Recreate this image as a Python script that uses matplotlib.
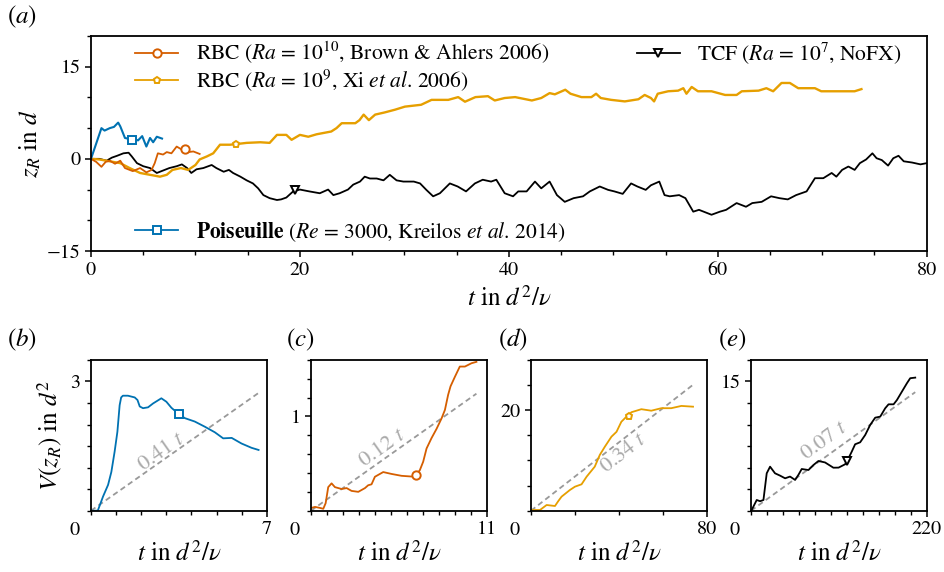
import numpy as np
import matplotlib
matplotlib.use('Agg')
import matplotlib.pyplot as plt
from matplotlib.lines import Line2D
from matplotlib.ticker import MultipleLocator

plt.rcParams['font.family'] = ['STIXGeneral']
plt.rcParams['mathtext.fontset'] = 'stix'

# ---- panel (a): trajectories z_R(t) ----
pois_t = [0, 0.5, 1.0, 1.3, 1.8, 2.2, 2.6, 2.8, 3.25, 3.5, 3.9, 4.2, 4.5, 4.9, 5.3, 5.65, 5.95, 6.3, 6.8]
pois_z = [0, 2.5, 5.0, 4.6, 5.0, 5.2, 5.9, 5.3, 3.4, 3.3, 3.1, 3.2, 3.0, 3.7, 2.0, 3.4, 2.7, 3.6, 3.3]

brown_t = [0, 0.5, 1.0, 1.4, 1.8, 2.3, 2.8, 3.25, 3.7, 4.0, 4.7, 5.3, 5.8, 6.1, 6.4, 6.9, 7.25, 7.7,
           8.2, 8.7, 9.0, 9.3, 9.8, 10.4]
brown_z = [0, -0.5, -1.3, -0.5, -0.3, -0.8, -0.3, -1.5, -1.8, -2.0, -1.5, -2.2, -1.8, -0.7, 0.9, 0.7,
           1.1, 0.9, 2.0, 1.5, 1.6, 1.1, 1.2, 0.8]

xi_t = [0, 0.8, 1.8, 2.8, 3.7, 4.7, 5.65, 6.6, 7.25, 7.8, 8.6, 9.3, 10.0, 10.4, 11.1, 11.7, 12.35,
        13.3, 13.9, 14.9, 16.2, 17.1, 17.8, 18.7, 19.2, 20.0, 20.8, 21.6, 23.0, 23.5, 24.0, 25.3,
        25.7, 26.1, 26.6, 27.2, 28.1, 29.1, 30.05, 31.6, 32.6, 34.2, 35.15, 35.8, 36.8, 38.0, 38.65,
        39.6, 40.6, 42.2, 43.1, 43.9, 44.4, 45.4, 45.9, 46.95, 47.9, 48.35, 48.8, 49.8, 51.1, 52.4,
        53.0, 53.6, 53.9, 54.25, 55.25, 56.2, 56.7, 57.0, 57.5, 58.1, 59.4, 60.7, 61.8, 62.3, 63.9,
        64.65, 65.3, 66.1, 66.9, 67.7, 69.3, 69.9, 71.2, 72.5, 73.1, 73.75]
xi_z = [0, -0.1, -0.4, -0.7, -1.5, -2.3, -2.6, -2.9, -2.6, -1.8, -1.5, -1.8, -1.0, -0.1, 0.4, 0.9, 2.3,
        2.3, 2.4, 2.6, 2.7, 2.6, 3.9, 3.9, 3.1, 3.9, 3.6, 4.0, 4.45, 5.0, 5.8, 5.8,
        6.3, 7.2, 6.3, 7.2, 7.55, 8.0, 8.5, 8.8, 9.6, 9.6, 10.05, 9.3, 10.05, 10.2, 9.5,
        9.9, 10.05, 9.5, 9.9, 10.7, 10.5, 11.25, 10.6, 10.05, 10.05, 10.6, 9.9, 9.6, 9.35, 9.7,
        10.4, 9.9, 9.35, 10.6, 11.0, 11.1, 11.5, 10.6, 11.7, 11.0, 11.0, 10.4, 10.4, 11.0, 11.1,
        11.5, 11.0, 12.35, 12.35, 11.5, 11.5, 11.0, 11.0, 11.0, 11.0, 11.35]

tcf_t = [0, 0.8, 1.5, 2.0, 2.5, 3.1, 3.6, 3.9, 4.4, 5.0,
         5.65, 6.3, 6.9, 7.5, 8.2, 8.7, 9.2, 9.6, 10.1, 10.75,
         11.55, 12.0, 12.7, 13.2, 13.6, 14.3, 14.9, 15.5, 16.0, 16.5,
         17.1, 17.8, 18.2, 18.7, 19.35, 20.0, 20.9, 21.9, 22.7, 23.2,
         23.8, 24.6, 25.1, 25.75, 26.2, 26.7, 27.35, 28.0, 28.6, 29.25,
         29.9, 30.9, 31.5, 32.1, 32.75, 33.4, 34.35, 35.1, 35.9, 36.75,
         37.5, 38.3, 38.8, 39.6, 40.4, 40.9, 41.7, 42.5, 43.1, 43.9,
         44.6, 45.35, 46.2, 47.1, 47.75, 48.7, 49.5, 50.1, 50.9, 51.7,
         52.3, 53.1, 53.6, 54.4, 54.9, 55.4, 56.3, 56.9, 57.65, 58.2,
         59.4, 60.2, 60.8, 61.8, 62.7, 63.3, 64.2, 65.1, 65.9, 66.7,
         67.5, 68.5, 69.3, 70.1, 70.9, 71.35, 71.9, 72.5, 73.1, 73.6,
         74.2, 74.8, 75.2, 75.7, 76.3, 76.8, 77.3, 77.8, 78.6, 79.4, 80.0]
tcf_z = [0, 0, -0.3, 0.2, 0.5, 0.9, 1.0, 0.4, -0.7, -1.2,
         -1.5, -2.3, -1.9, -1.5, -1.2, -0.9, -1.5, -2.3, -1.7, -1.5,
         -1.0, -1.5, -2.1, -1.8, -2.3, -2.9, -3.5, -4.0, -4.8, -5.9,
         -6.4, -6.7, -6.6, -6.3, -5.3, -5.0, -5.3, -5.6, -5.0, -5.9,
         -5.6, -5.0, -4.2, -3.7, -2.9, -3.2, -3.2, -3.5, -2.6, -3.5,
         -3.7, -3.7, -4.0, -5.05, -6.1, -5.6, -4.0, -4.5, -5.3, -4.0,
         -3.4, -3.7, -3.4, -5.6, -6.1, -5.3, -5.3, -3.7, -4.8, -3.7,
         -5.9, -7.0, -6.4, -6.1, -5.3, -4.5, -5.05, -5.3, -5.7, -4.0,
         -4.5, -5.05, -4.3, -3.7, -5.9, -6.1, -5.9, -6.4, -8.6, -8.3,
         -9.1, -8.6, -8.3, -7.2, -7.8, -7.2, -7.0, -6.1, -6.4, -6.6,
         -5.9, -5.3, -3.15, -3.15, -2.3, -2.9, -1.8, -1.25, -1.8, -0.7,
         -0.1, 0.9, 0.1, -0.2, -1.1, 0.1, 0.5, -0.4, -0.6, -0.9, -0.7]

# marker positions on the trajectories
mark_top = {'pois': (3.9, 3.1), 'brown': (9.0, 1.6), 'xi': (13.9, 2.4), 'tcf': (19.5, -5.05)}

# ---- panels (b)-(e): variance V(z_R) ----
var_b_t = [0, 0.27, 0.48, 0.68, 0.81, 0.94, 1.05, 1.14, 1.2, 1.27, 1.47, 1.74, 1.85, 1.94, 2.07,
           2.27, 2.47, 2.8, 3.0, 3.2, 3.46, 3.73, 4.13, 4.53, 4.93, 5.26, 5.6, 5.99, 6.39, 6.67]
var_b_v = [0, 0, 0.33, 0.6, 0.9, 1.37, 1.83, 2.45, 2.63, 2.67, 2.67, 2.63, 2.57, 2.42, 2.38,
           2.4, 2.49, 2.61, 2.53, 2.39, 2.26, 2.15, 2.07, 1.95, 1.82, 1.68, 1.69, 1.56, 1.46, 1.41]

var_c_t = [0.04, 0.25, 0.55, 0.77, 0.92, 1.08, 1.29, 1.5, 1.92, 2.23, 2.54, 2.96, 3.38, 3.58, 3.79,
           4.0, 4.52, 5.04, 5.67, 6.5, 6.81, 7.02, 7.23, 7.54, 7.86, 8.17, 8.38, 8.58, 8.73, 9.0,
           9.31, 9.63, 10.04, 10.35]
var_c_v = [0.03, 0.04, 0.03, 0.02, 0.08, 0.25, 0.29, 0.25, 0.23, 0.24, 0.21, 0.2, 0.24, 0.27, 0.28,
           0.36, 0.41, 0.39, 0.37, 0.36, 0.43, 0.52, 0.66, 0.77, 0.87, 0.98, 1.07, 1.23, 1.32, 1.42,
           1.53, 1.53, 1.565, 1.58]

var_d_t = [0.3, 4.1, 7.1, 10.9, 12.4, 13.9, 17.7, 20, 23, 25.3, 29, 31.3, 33.6, 36.6, 38.9, 41.1,
           43.4, 45.7, 50.2, 54.7, 59.3, 63.8, 68.4, 73.7]
var_d_v = [0.13, 0.14, 1.13, 0.93, 1.9, 2.79, 4.12, 4.78, 5.25, 6.77, 8.76, 11.1, 12.74, 14.73, 15.7,
           17.7, 18.7, 19.6, 20.2, 19.9, 20.4, 20.4, 20.85, 20.7]

var_e_t = [0.8, 2.9, 7.1, 11.3, 15.5, 19.6, 23.8, 30, 36.3, 42.6, 48.8, 55.1, 59.2, 63.4, 71.8, 78,
           84.3, 92.6, 103, 109.5, 117.7, 121.9, 126, 130.2, 136.5, 142.8, 149, 155.3, 161.6, 167.8,
           172, 178.3, 182.5, 188.7, 195, 199.1, 205.4]
var_e_v = [0.08, 0.47, 1.24, 1.1, 1.24, 4.34, 5.11, 4.34, 4.07, 3.76, 3.96, 3.57, 4.15, 4.84, 4.72,
           5.3, 5.77, 5.6, 4.99, 5.0, 5.39, 6.09, 6.86, 7.71, 7.94, 8.79, 9.95, 10.8, 10.92, 11.89,
           12.35, 12.35, 12.85, 13.82, 14.8, 15.38, 15.45]

mark_var = [(3.49, 2.25), (6.55, 0.38), (44.5, 18.9), (120, 5.8)]
fit_slopes = [0.41, 0.12, 0.34, 0.067]
fit_labels = ['0.41', '0.12', '0.34', '0.07']

c_pois = '#0072B2'
c_brown = '#D55E00'
c_xi = '#E69F00'
c_tcf = 'black'
c_fit = '#999999'

lw = 1.3
fs = 14.5
fs_lab = 18

fig = plt.figure(figsize=(9.44, 5.72), dpi=100)

def style(ax):
    for s in ax.spines.values():
        s.set_linewidth(1.3)
    ax.tick_params(which='major', direction='out', length=4.5, width=1.1, labelsize=fs, pad=3)
    ax.tick_params(which='minor', direction='out', length=3, width=1.0)

# (a)
ax = fig.add_axes([0.0964, 0.5612, 0.8853, 0.3759])
style(ax)
ax.plot(tcf_t, tcf_z, color=c_tcf, lw=lw)
ax.plot(xi_t, xi_z, color=c_xi, lw=lw + 0.4)
ax.plot(brown_t, brown_z, color=c_brown, lw=lw)
ax.plot(pois_t, pois_z, color=c_pois, lw=lw + 0.2)
mk = dict(ls='none', mfc='white', mew=1.4)
ax.plot(*mark_top['tcf'], marker='v', ms=6, color=c_tcf, **mk)
ax.plot(*mark_top['xi'], marker='p', ms=5, color=c_xi, **mk)
ax.plot(*mark_top['brown'], marker='o', ms=6, color=c_brown, **mk)
ax.plot(*mark_top['pois'], marker='s', ms=6, color=c_pois, **mk)
ax.set_xlim(0, 80)
ax.set_ylim(-15, 20)
ax.set_xticks([0, 20, 40, 60, 80])
ax.set_yticks([-15, 0, 15])
ax.xaxis.set_minor_locator(MultipleLocator(5))
ax.yaxis.set_minor_locator(MultipleLocator(5))
ax.set_xlabel(r'$t$ in $d^2/\nu$', fontsize=fs_lab, labelpad=6)
ax.set_ylabel(r'$z_R$ in $d$', fontsize=fs_lab, labelpad=2)

def handle(color, marker, ms):
    return Line2D([], [], color=color, lw=lw, marker=marker, ms=ms, mfc='white', mew=1.4)

leg_kw = dict(frameon=False, fontsize=15.5, handlelength=2.0, handletextpad=0.8,
              labelspacing=0.05, borderpad=0, borderaxespad=0, loc='upper left')
lab_brown = r'RBC ($Ra$ = 10$^{10}$, Brown & Ahlers 2006)'
lab_xi = r'RBC ($Ra$ = 10$^{9}$, Xi $et\ al$. 2006)'
lab_tcf = r'TCF ($Ra$ = 10$^{7}$, NoFX)'
lab_pois = r'$\mathbf{Poiseuille}$ ($Re$ = 3000, Kreilos $et\ al$. 2014)'
l1 = ax.legend([handle(c_brown, 'o', 6), handle(c_xi, 'p', 5)], [lab_brown, lab_xi],
               bbox_to_anchor=(0.053, 0.98), **leg_kw)
ax.add_artist(l1)
l2 = ax.legend([handle(c_tcf, 'v', 6)], [lab_tcf], bbox_to_anchor=(0.653, 0.98), **leg_kw)
ax.add_artist(l2)
ax.legend([handle(c_pois, 's', 6)], [lab_pois], bbox_to_anchor=(0.053, 0.145), **leg_kw)
fig.text(0.007, 0.97, r'($a$)', fontsize=fs_lab, va='center')

# (b)-(e)
panels = [
    (var_b_t, var_b_v, c_pois, 's', 7, 3.5, 3, 1, 0.5, 2.8),
    (var_c_t, var_c_v, c_brown, 'o', 11, 1.6, 1, 1, 0.2, 4.5),
    (var_d_t, var_d_v, c_xi, 'p', 80, 30, 20, 20, 5, 42.0),
    (var_e_t, var_e_v, c_tcf, 'v', 220, 17.5, 15, 20, 2.5, 92.4),
]
lefts = [0.0964, 0.3294, 0.5625, 0.7956]
names = ['b', 'c', 'd', 'e']
text_off = [0.22, 0.13, -2.8, 1.9]
label_dx = [-0.089, -0.026, -0.035, -0.035]
for i, (tt, vv, col, mkr, xmax, ymax, ymaj, xmin_step, ymin_step, tx) in enumerate(panels):
    a = fig.add_axes([lefts[i], 0.1072, 0.1863, 0.2635])
    style(a)
    slope = fit_slopes[i]
    a.plot([0, tt[-1]], [0, slope * tt[-1]], color=c_fit, lw=1.3, ls=(0, (3, 2)))
    a.plot(tt, vv, color=col, lw=lw)
    a.plot(*mark_var[i], marker=mkr, ms=6 if mkr != 'p' else 5, color=col, **mk)
    a.set_xlim(0, xmax)
    a.set_ylim(0, ymax)
    a.set_xticks([xmax])
    a.set_yticks([ymaj])
    a.xaxis.set_minor_locator(MultipleLocator(xmin_step))
    a.yaxis.set_minor_locator(MultipleLocator(ymin_step))
    a.set_xlabel(r'$t$ in $d^2/\nu$', fontsize=fs_lab, labelpad=3)
    a.annotate('0', xy=(0, 0), xycoords='axes fraction', xytext=(-12, -14),
               textcoords='offset points', ha='center', va='center', fontsize=fs)
    # rotation of fit label along the dashed line
    p0 = a.transData.transform((0, 0))
    p1 = a.transData.transform((xmax, slope * xmax))
    ang = np.degrees(np.arctan2(p1[1] - p0[1], p1[0] - p0[0]))
    a.text(tx, slope * tx + text_off[i], fit_labels[i] + r' $t$', color='#aaaaaa', fontsize=16,
           rotation=ang, rotation_mode='anchor', ha='center', va='center')
    fig.text(lefts[i] + label_dx[i], 0.405, '($%s$)' % names[i], fontsize=fs_lab, va='center')
    if i == 0:
        a.set_ylabel(r'$V(z_R)$ in $d^2$', fontsize=fs_lab, labelpad=4)

fig.savefig('out.png', dpi=100)
